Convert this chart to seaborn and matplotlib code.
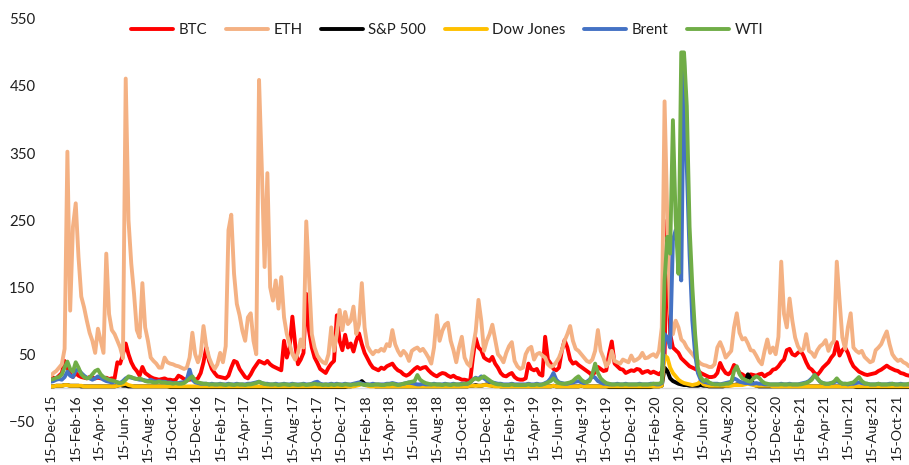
import matplotlib
matplotlib.use("Agg")
import matplotlib.pyplot as plt
from matplotlib.lines import Line2D
import numpy as np
import pandas as pd
import seaborn as sns

# Weekly observations, 15 Dec 2015 onwards
start_date = "2015-12-15"
n_weeks = 310

btc = [
    12, 15, 14, 18, 22, 40, 30, 20, 16, 22,
    18, 16, 15, 14, 16, 15, 14, 15, 14, 14,
    15, 13, 14, 14, 38, 36, 50, 66, 50, 38,
    30, 25, 18, 31, 22, 19, 16, 14, 13, 12,
    13, 14, 12, 12, 11, 12, 18, 16, 13, 12,
    12, 13, 12, 14, 22, 38, 60, 40, 28, 22,
    17, 16, 15, 14, 18, 30, 40, 38, 28, 22,
    16, 14, 20, 28, 34, 40, 38, 36, 40, 35,
    32, 30, 28, 26, 70, 45, 60, 106, 65, 35,
    42, 52, 140, 85, 60, 45, 37, 28, 25, 22,
    30, 36, 40, 108, 70, 56, 79, 60, 66, 54,
    70, 81, 65, 52, 44, 36, 30, 28, 26, 30,
    28, 32, 34, 36, 30, 26, 24, 20, 18, 20,
    24, 28, 31, 28, 30, 31, 26, 22, 19, 17,
    20, 22, 21, 18, 16, 18, 15, 14, 12, 12,
    11, 10, 45, 74, 60, 56, 45, 42, 40, 46,
    36, 30, 22, 18, 17, 20, 22, 16, 13, 12,
    12, 14, 36, 28, 26, 28, 20, 18, 76, 42,
    36, 28, 26, 30, 55, 71, 60, 42, 36, 38,
    34, 31, 28, 25, 22, 18, 24, 31, 28, 25,
    26, 50, 69, 36, 32, 28, 27, 22, 24, 26,
    25, 28, 27, 22, 24, 25, 22, 24, 22, 20,
    24, 45, 250, 80, 60, 56, 52, 44, 40, 36,
    32, 30, 28, 26, 22, 20, 18, 16, 16, 17,
    22, 37, 28, 22, 20, 24, 34, 30, 22, 20,
    17, 18, 20, 19, 18, 20, 21, 17, 20, 22,
    27, 28, 32, 38, 42, 56, 58, 50, 48, 52,
    55, 48, 38, 30, 27, 22, 19, 24, 30, 34,
    38, 45, 50, 68, 48, 56, 60, 52, 40, 32,
    28, 24, 22, 20, 19, 20, 21, 22, 25, 27,
    30, 33, 30, 28, 26, 25, 22, 21, 19, 18,
]

eth = [
    18, 22, 25, 30, 35, 58, 352, 115, 240, 275,
    195, 136, 120, 100, 82, 70, 52, 88, 70, 52,
    200, 110, 86, 80, 70, 60, 44, 461, 250, 185,
    140, 86, 75, 156, 90, 70, 45, 40, 36, 30,
    30, 45, 38, 36, 35, 33, 32, 30, 28, 30,
    45, 82, 50, 38, 50, 92, 62, 45, 35, 28,
    35, 52, 38, 62, 235, 258, 170, 125, 108, 85,
    70, 105, 111, 70, 50, 459, 327, 180, 320, 150,
    130, 160, 118, 165, 105, 80, 65, 50, 42, 52,
    72, 60, 248, 165, 80, 60, 48, 42, 38, 36,
    50, 90, 55, 80, 116, 86, 113, 95, 100, 121,
    80, 95, 156, 90, 62, 55, 50, 55, 54, 58,
    55, 65, 62, 86, 65, 55, 48, 55, 50, 40,
    55, 58, 60, 55, 58, 52, 45, 36, 60, 108,
    70, 85, 94, 97, 70, 56, 38, 60, 76, 45,
    36, 32, 60, 84, 131, 100, 55, 70, 80, 94,
    72, 50, 45, 38, 52, 62, 68, 40, 32, 28,
    30, 50, 58, 61, 42, 50, 52, 48, 45, 35,
    31, 33, 38, 45, 56, 70, 80, 92, 70, 58,
    55, 50, 45, 40, 38, 42, 55, 86, 55, 45,
    32, 38, 55, 40, 38, 36, 42, 40, 38, 48,
    40, 42, 45, 52, 44, 45, 48, 50, 46, 55,
    90, 427, 250, 111, 80, 100, 90, 72, 68, 60,
    55, 50, 45, 40, 36, 34, 33, 31, 31, 35,
    60, 68, 58, 45, 50, 55, 90, 111, 82, 72,
    74, 66, 56, 55, 48, 40, 35, 55, 72, 52,
    60, 50, 76, 188, 110, 90, 133, 100, 75, 62,
    55, 58, 80, 55, 52, 46, 56, 62, 65, 71,
    55, 65, 70, 188, 130, 75, 58, 90, 111, 60,
    55, 52, 55, 46, 42, 38, 40, 56, 60, 65,
    75, 84, 65, 50, 44, 40, 42, 38, 36, 32,
]

sp500 = [
    2, 2, 3, 3, 3, 4, 4, 3, 3, 3,
    3, 2, 2, 2, 2, 2, 2, 2, 2, 2,
    2, 2, 2, 2, 3, 4, 3, 3, 2, 2,
    2, 2, 2, 2, 2, 2, 2, 2, 2, 2,
    2, 2, 2, 1, 1, 1, 1, 1, 1, 1,
    1, 1, 1, 1, 1, 1, 1, 1, 1, 1,
    1, 1, 1, 1, 1, 1, 1, 1, 1, 1,
    1, 1, 1, 1, 1, 1, 1, 1, 1, 1,
    1, 1, 1, 1, 1, 1, 1, 1, 1, 1,
    1, 1, 1, 1, 1, 1, 1, 1, 1, 1,
    1, 1, 1, 1, 1, 1, 1, 2, 2, 3,
    4, 6, 10, 6, 4, 3, 3, 2, 2, 2,
    2, 2, 2, 2, 2, 2, 2, 2, 2, 2,
    2, 2, 2, 2, 2, 2, 2, 2, 2, 2,
    2, 2, 2, 2, 2, 2, 2, 2, 2, 2,
    2, 3, 3, 4, 3, 3, 4, 5, 4, 3,
    3, 3, 2, 2, 2, 2, 2, 2, 2, 2,
    2, 2, 2, 2, 2, 2, 2, 2, 2, 2,
    2, 3, 2, 2, 2, 2, 2, 2, 2, 2,
    2, 3, 2, 2, 2, 2, 2, 2, 2, 2,
    2, 1, 1, 1, 1, 1, 1, 1, 1, 1,
    1, 1, 1, 1, 1, 1, 1, 2, 2, 2,
    3, 30, 25, 14, 10, 8, 6, 5, 4, 4,
    3, 3, 3, 3, 4, 3, 3, 2, 2, 2,
    2, 2, 2, 3, 3, 4, 4, 5, 5, 6,
    6, 20, 14, 5, 3, 2, 2, 2, 2, 2,
    2, 2, 2, 2, 2, 2, 2, 2, 2, 2,
    2, 2, 2, 2, 2, 2, 2, 2, 2, 2,
    2, 2, 2, 2, 2, 2, 2, 2, 2, 2,
    1, 1, 1, 1, 1, 1, 1, 1, 1, 1,
    1, 1, 1, 1, 1, 1, 1, 1, 1, 1,
]

dow = [
    2, 2, 3, 3, 3, 4, 4, 3, 3, 3,
    3, 3, 2, 2, 2, 2, 2, 2, 2, 2,
    2, 2, 2, 2, 3, 4, 5, 6, 4, 3,
    2, 2, 2, 2, 2, 2, 2, 2, 2, 2,
    2, 2, 2, 2, 2, 2, 2, 2, 2, 2,
    2, 2, 2, 2, 2, 2, 2, 2, 2, 2,
    2, 2, 2, 2, 2, 2, 2, 2, 2, 2,
    2, 2, 2, 2, 2, 2, 2, 2, 2, 2,
    2, 2, 2, 2, 2, 2, 2, 2, 2, 2,
    2, 2, 2, 2, 2, 2, 2, 2, 2, 2,
    2, 2, 2, 2, 2, 2, 2, 2, 2, 2,
    3, 4, 6, 4, 3, 2, 2, 2, 2, 2,
    2, 2, 2, 2, 2, 2, 2, 2, 2, 2,
    2, 2, 2, 2, 2, 2, 2, 2, 2, 2,
    2, 2, 2, 2, 2, 2, 2, 2, 2, 2,
    2, 3, 3, 3, 3, 3, 4, 4, 3, 3,
    2, 2, 2, 2, 2, 2, 2, 2, 2, 2,
    2, 2, 2, 2, 2, 2, 2, 2, 2, 2,
    2, 3, 2, 2, 2, 2, 2, 2, 2, 2,
    2, 3, 2, 2, 2, 2, 2, 2, 2, 2,
    2, 2, 2, 2, 2, 2, 2, 2, 2, 2,
    2, 2, 2, 2, 2, 2, 2, 2, 2, 2,
    3, 48, 45, 30, 22, 17, 12, 9, 7, 6,
    5, 4, 5, 6, 10, 5, 4, 3, 3, 3,
    3, 3, 3, 3, 3, 3, 4, 4, 4, 4,
    5, 6, 5, 4, 3, 3, 3, 3, 3, 3,
    2, 2, 2, 2, 2, 2, 2, 2, 2, 2,
    2, 2, 2, 2, 2, 2, 2, 2, 2, 2,
    2, 2, 2, 2, 2, 2, 2, 2, 2, 2,
    2, 2, 2, 2, 2, 2, 2, 2, 2, 2,
    2, 2, 2, 2, 2, 2, 2, 2, 2, 2,
]

brent = [
    9, 10, 12, 13, 12, 16, 24, 18, 16, 26,
    27, 22, 18, 15, 14, 12, 14, 17, 15, 12,
    10, 9, 8, 9, 8, 7, 10, 14, 16, 15,
    14, 13, 12, 12, 11, 10, 12, 10, 9, 10,
    9, 9, 8, 8, 7, 7, 7, 8, 8, 12,
    27, 12, 8, 7, 6, 6, 6, 5, 6, 5,
    5, 6, 5, 5, 6, 5, 5, 6, 5, 5,
    5, 6, 6, 7, 8, 9, 7, 6, 6, 5,
    5, 6, 5, 5, 6, 5, 5, 6, 5, 5,
    5, 6, 5, 5, 6, 8, 9, 6, 5, 5,
    5, 6, 5, 6, 5, 5, 6, 5, 5, 6,
    7, 8, 6, 5, 5, 5, 6, 5, 5, 5,
    5, 6, 6, 7, 6, 5, 5, 6, 7, 8,
    7, 6, 5, 5, 6, 5, 5, 5, 6, 5,
    5, 5, 6, 5, 5, 6, 5, 5, 6, 6,
    6, 8, 12, 15, 13, 17, 14, 11, 9, 8,
    7, 6, 6, 5, 5, 5, 6, 5, 5, 5,
    5, 5, 6, 5, 5, 6, 5, 5, 7, 9,
    14, 22, 12, 8, 7, 6, 6, 7, 8, 9,
    10, 8, 7, 9, 12, 17, 15, 10, 8, 6,
    6, 5, 5, 5, 6, 5, 5, 6, 5, 5,
    5, 5, 6, 5, 5, 5, 6, 6, 5, 5,
    7, 80, 75, 60, 220, 235, 200, 160, 495, 330,
    200, 100, 50, 22, 12, 9, 8, 7, 6, 6,
    6, 5, 6, 7, 8, 9, 14, 12, 9, 8,
    7, 7, 6, 6, 7, 6, 6, 5, 5, 5,
    5, 5, 5, 6, 5, 5, 6, 5, 5, 5,
    6, 7, 8, 10, 14, 19, 14, 9, 7, 6,
    6, 7, 8, 10, 8, 6, 6, 5, 6, 6,
    7, 8, 7, 6, 6, 5, 5, 5, 6, 5,
    5, 5, 6, 6, 5, 5, 6, 5, 5, 5,
]

wti = [
    12, 13, 15, 16, 20, 30, 39, 28, 24, 38,
    30, 20, 16, 14, 15, 20, 25, 27, 20, 16,
    14, 12, 11, 10, 8, 7, 8, 12, 17, 16,
    14, 13, 14, 12, 10, 9, 9, 8, 8, 9,
    8, 8, 7, 7, 6, 7, 6, 6, 7, 10,
    14, 17, 10, 8, 7, 6, 6, 5, 5, 5,
    5, 5, 5, 4, 5, 5, 4, 5, 5, 5,
    4, 5, 5, 6, 7, 9, 7, 6, 5, 5,
    5, 5, 4, 5, 5, 5, 4, 5, 5, 4,
    5, 5, 4, 5, 5, 6, 5, 5, 4, 5,
    4, 5, 4, 5, 5, 4, 5, 5, 4, 5,
    5, 6, 5, 4, 5, 4, 4, 5, 5, 4,
    4, 5, 5, 6, 5, 4, 5, 6, 7, 8,
    9, 10, 19, 12, 9, 7, 6, 5, 5, 5,
    5, 4, 5, 5, 4, 5, 5, 5, 5, 6,
    6, 8, 12, 14, 12, 15, 17, 14, 11, 8,
    6, 5, 5, 4, 4, 4, 5, 4, 4, 4,
    4, 4, 5, 4, 4, 5, 4, 5, 6, 8,
    10, 14, 9, 7, 6, 6, 7, 8, 10, 14,
    17, 12, 9, 8, 10, 20, 36, 22, 14, 10,
    7, 6, 5, 5, 5, 5, 5, 5, 5, 5,
    5, 5, 5, 5, 5, 5, 5, 6, 6, 6,
    8, 160, 225, 200, 399, 250, 170, 500, 500, 420,
    240, 150, 80, 30, 16, 10, 12, 8, 6, 5,
    5, 5, 5, 6, 6, 8, 25, 32, 20, 14,
    12, 10, 9, 14, 17, 15, 10, 7, 6, 5,
    5, 5, 5, 5, 5, 5, 5, 5, 5, 5,
    5, 6, 7, 9, 12, 19, 14, 9, 7, 6,
    6, 7, 9, 14, 9, 6, 6, 6, 7, 8,
    12, 16, 10, 7, 6, 5, 5, 5, 6, 5,
    5, 5, 5, 6, 5, 5, 5, 5, 5, 6,
]

series_names = ["BTC", "ETH", "S&P 500", "Dow Jones", "Brent", "WTI"]
series_colors = ["#FF0000", "#F4B183", "#000000", "#FFC000", "#4472C4", "#70AD47"]
y_ticks = [-50, 50, 150, 250, 350, 450, 550]

dates = pd.date_range(start_date, periods=n_weeks, freq="7D")
frames = []
for name, vals in zip(series_names, [btc, eth, sp500, dow, brent, wti]):
    frames.append(pd.DataFrame({"date": dates, "value": vals, "series": name}))
df = pd.concat(frames, ignore_index=True)

sns.set_style("white")
plt.rcParams["font.family"] = ["Lato", "DejaVu Sans"]
text_color = "#1f1f1f"

fig = plt.figure(figsize=(9.09, 4.65), dpi=100)
ax = fig.add_axes([0.0558, 0.094, 0.9442, 0.8654])

# Horizontal axis line sits at zero; labels hang beneath it
for side in ["top", "right", "left"]:
    ax.spines[side].set_visible(False)
ax.spines["bottom"].set_position(("data", 0))
ax.spines["bottom"].set_color("#D9D9D9")
ax.spines["bottom"].set_linewidth(1.0)
ax.spines["bottom"].set_zorder(0)

sns.lineplot(
    data=df, x="date", y="value", hue="series", hue_order=series_names,
    palette=series_colors, linewidth=2.8, estimator=None, legend=False, ax=ax,
)

ax.set_xlim(dates[0], dates[-1])
ax.set_ylim(-50, 550)
ax.set_yticks(y_ticks)
ax.set_xlabel("")
ax.set_ylabel("")

# Date ticks every two months on the 15th
tick_dates = [pd.Timestamp("2015-12-15") + pd.DateOffset(months=2 * k) for k in range(36)]
ax.set_xticks(tick_dates)
ax.set_xticklabels([d.strftime("%d-%b-%y") for d in tick_dates])
ax.tick_params(axis="x", length=3.5, width=0.8, color="#D9D9D9", pad=1.0,
               labelrotation=90, labelsize=10.2, labelcolor=text_color)
ax.tick_params(axis="y", length=0, pad=11, labelsize=10.8, labelcolor=text_color)
ax.grid(False)

handles = [Line2D([], [], color=c, linewidth=2.8) for c in series_colors]
fig.legend(handles, series_names, loc="center", bbox_to_anchor=(0.492, 0.935),
           ncol=6, frameon=False, fontsize=10.8, handlelength=2.8,
           handletextpad=0.35, columnspacing=1.25, labelcolor=text_color)

fig.savefig("out.png", dpi=100)
